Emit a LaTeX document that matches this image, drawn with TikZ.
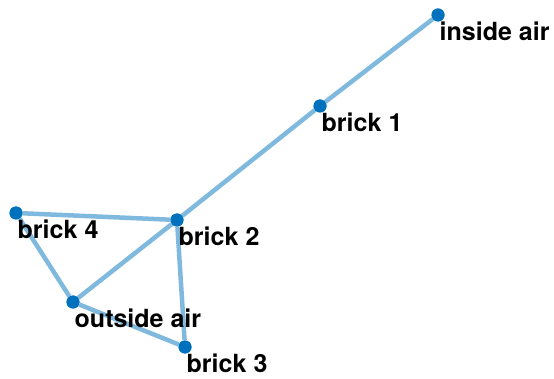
\documentclass[tikz,border=0pt]{standalone}
\usepackage{fontspec}
\setmainfont{TeX Gyre Heros}
\usepackage{xcolor}
\usetikzlibrary{positioning}
\definecolor{nodeblue}{HTML}{0072BD}
\begin{document}
\begin{tikzpicture}[
            x=1pt, y=-1pt,
            % Define the styles for vertices, labels and edges
            vertex/.style={circle, fill=nodeblue, inner sep=0pt, minimum size=13pt},
            vlabel/.style={anchor=base west, inner sep=0pt, font=\fontsize{25}{30}\selectfont\bfseries},
            edge/.style={line width=4.5pt, nodeblue!50},
            ]

            \useasboundingbox (0,0) rectangle (554,379);

            % Vertices
            \node[vertex] (IA) at (438,15) {};
            \node[vertex] (B1) at (320,106) {};
            \node[vertex] (B2) at (177,220) {};
            \node[vertex] (B4) at (16,213) {};
            \node[vertex] (OA) at (73,302) {};
            \node[vertex] (B3) at (185,347) {};

            % Edges
            \draw[edge] (IA) -- (B1);
            \draw[edge] (B1) -- (B2);
            \draw[edge] (B2) -- (B4);
            \draw[edge] (B2) -- (OA);
            \draw[edge] (B2) -- (B3);
            \draw[edge] (B4) -- (OA);
            \draw[edge] (OA) -- (B3);

            % Redraw vertices on top of the edges
            \foreach \v in {IA,B1,B2,B4,OA,B3}
                \fill[nodeblue] (\v) circle (6.5);

            % Labels
            \node[vlabel] (IA-label) at ([xshift=1.5pt, yshift=-25.5pt]IA.center) {inside air};
            \node[vlabel] (B1-label) at ([xshift=1.5pt, yshift=-25.5pt]B1.center) {brick 1};
            \node[vlabel] (B2-label) at ([xshift=1.5pt, yshift=-25.5pt]B2.center) {brick 2};
            \node[vlabel] (B4-label) at ([xshift=1.5pt, yshift=-25.5pt]B4.center) {brick 4};
            \node[vlabel] (OA-label) at ([xshift=1.5pt, yshift=-25.5pt]OA.center) {outside air};
            \node[vlabel] (B3-label) at ([xshift=1.5pt, yshift=-25.5pt]B3.center) {brick 3};

        \end{tikzpicture}
\end{document}
